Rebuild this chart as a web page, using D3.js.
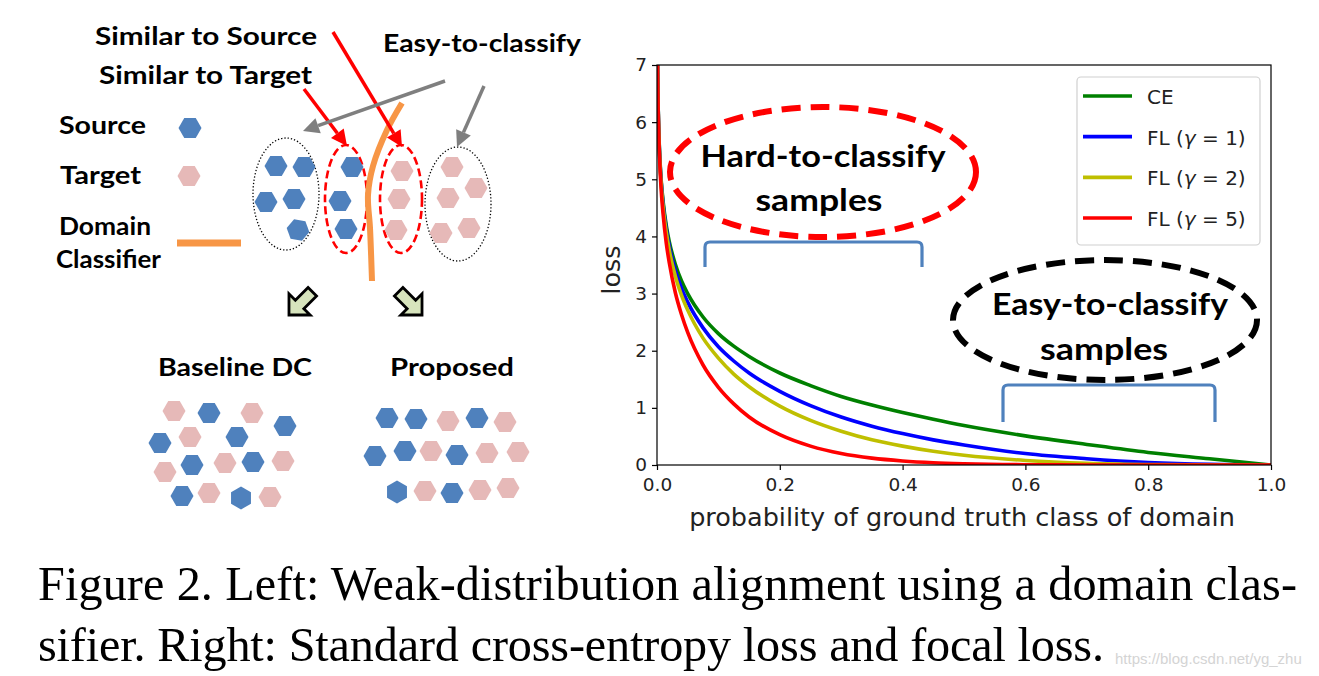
<!DOCTYPE html>
<html>
<head>
<meta charset="utf-8">
<script src="https://cdn.jsdelivr.net/npm/d3@7"></script>
<style>
body{margin:0;background:#fff;}
svg{display:block;}
</style>
</head>
<body>
<script>
// values
let probs = [0.0005,0.001,0.002,0.003,0.005,0.007,0.01,0.015,0.02,0.03,0.04,0.05,0.075,0.1,0.125,0.15,0.2,0.25,0.3,0.35,0.4,0.45,0.5,0.6,0.7,0.8,0.9,1.0];
let ceLoss  = [7.60,6.91,6.21,5.81,5.30,4.96,4.61,4.20,3.91,3.51,3.22,3.00,2.59,2.30,2.08,1.90,1.61,1.39,1.20,1.05,0.92,0.80,0.69,0.51,0.36,0.22,0.11,0.00];
let fl1Loss = [7.60,6.90,6.20,5.79,5.27,4.93,4.56,4.14,3.83,3.40,3.09,2.85,2.40,2.07,1.82,1.61,1.29,1.04,0.84,0.68,0.55,0.44,0.35,0.20,0.11,0.045,0.011,0.00];
let fl2Loss = [7.59,6.90,6.19,5.78,5.25,4.89,4.51,4.08,3.76,3.30,2.97,2.71,2.22,1.87,1.59,1.37,1.03,0.78,0.59,0.44,0.33,0.24,0.17,0.08,0.03,0.009,0.001,0.00];
let fl5Loss = [7.58,6.87,6.15,5.72,5.17,4.79,4.38,3.89,3.54,3.01,2.63,2.32,1.75,1.36,1.07,0.84,0.53,0.33,0.20,0.12,0.071,0.040,0.022,0.005,0.001,0.0,0.0,0.0];
let seriesNames = ['CE','FL1','FL2','FL5'];
let gammas = [null,1,2,5];
let xTicks = [0,0.2,0.4,0.6,0.8,1.0];
let yTicks = [0,1,2,3,4,5,6,7];

let width = 1319, height = 676;
let svg = d3.select('body').append('svg').attr('width',width).attr('height',height);

// ---------------- chart ----------------
let x = d3.scaleLinear().domain([0,1]).range([657,1271]);
let y = d3.scaleLinear().domain([0,7]).range([465,65]);
let colors = d3.scaleOrdinal().domain(seriesNames).range(['#008000','#0000ff','#bfbf00','#ff0000']);

svg.append('clipPath').attr('id','plotclip').append('rect')
  .attr('x',x(0)).attr('y',y(7)).attr('width',x(1)-x(0)).attr('height',y(0)-y(7));

let allSeries = [ceLoss,fl1Loss,fl2Loss,fl5Loss];
let line = d3.line().x(d=>x(d[0])).y(d=>y(d[1])).curve(d3.curveMonotoneX);
let curves = svg.append('g').attr('clip-path','url(#plotclip)');
curves.selectAll('path').data(allSeries).join('path')
  .attr('d',s=>line(probs.map((p,i)=>[p,s[i]])))
  .attr('fill','none').attr('stroke',(s,i)=>colors(seriesNames[i])).attr('stroke-width',3.6);

let tickFont = 'DejaVu Sans';
let gx = svg.append('g').attr('transform',`translate(0,${y(0)})`)
  .call(d3.axisBottom(x).tickValues(xTicks).tickFormat(d3.format('.1f')).tickSize(5).tickPadding(8));
let gy = svg.append('g').attr('transform',`translate(${x(0)},0)`)
  .call(d3.axisLeft(y).tickValues(yTicks).tickFormat(d3.format('d')).tickSize(5).tickPadding(5));
[gx,gy].forEach(g=>{
  g.select('.domain').remove();
  g.selectAll('line').attr('stroke','#000').attr('stroke-width',1.2);
  g.selectAll('text').attr('font-family',tickFont).attr('font-size',18.5).attr('fill','#222');
});
svg.append('rect').attr('x',x(0)).attr('y',y(7)).attr('width',x(1)-x(0)).attr('height',y(0)-y(7))
  .attr('fill','none').attr('stroke','#000').attr('stroke-width',1.2);

svg.append('text').attr('x',962).attr('y',526).attr('text-anchor','middle')
  .attr('font-family',tickFont).attr('font-size',25.5).attr('fill','#222')
  .text('probability of ground truth class of domain');
svg.append('text').attr('transform',`translate(620,${(y(0)+y(7))/2+5}) rotate(-90)`).attr('text-anchor','middle')
  .attr('font-family',tickFont).attr('font-size',25.5).attr('fill','#222').text('loss');

// legend
let leg = svg.append('g');
leg.append('rect').attr('x',1077).attr('y',77).attr('width',183).attr('height',168).attr('rx',4)
  .attr('fill','#fff').attr('fill-opacity',0.8).attr('stroke','#d0d0d0').attr('stroke-width',1.2);
let legRows = d3.scalePoint().domain(seriesNames).range([96,218]);
seriesNames.forEach((n,i)=>{
  let ly = legRows(n);
  leg.append('line').attr('x1',1083).attr('x2',1132).attr('y1',ly).attr('y2',ly)
    .attr('stroke',colors(n)).attr('stroke-width',3.6);
  let t = leg.append('text').attr('x',1147).attr('y',ly+8).attr('font-family',tickFont)
    .attr('font-size',20).attr('fill','#222');
  if(gammas[i]===null){ t.text('CE'); }
  else {
    t.append('tspan').text('FL (');
    t.append('tspan').attr('font-style','italic').text('γ');
    t.append('tspan').text(' = '+gammas[i]+')');
  }
});

// annotations on the chart
let calibri = 'Lato';
function dashedEllipse(cx,cy,rx,ry,color){
  svg.append('ellipse').attr('cx',cx).attr('cy',cy).attr('rx',rx).attr('ry',ry)
    .attr('fill','none').attr('stroke',color).attr('stroke-width',6).attr('stroke-dasharray','19 10');
}
function label(txt,xx,yy,size,len,anchor){
  let t = svg.append('text').attr('x',xx).attr('y',yy).attr('font-family',calibri).attr('font-weight',700)
    .attr('font-size',size).attr('fill','#000').attr('text-anchor',anchor||'start').text(txt);
  if(len) t.attr('textLength',len).attr('lengthAdjust','spacingAndGlyphs');
  return t;
}
function bracket(x1,x2,top,bot){
  svg.append('path').attr('d',`M${x1},${bot} L${x1},${top+5} Q${x1},${top} ${x1+5},${top} L${x2-5},${top} Q${x2},${top} ${x2},${top+5} L${x2},${bot}`)
    .attr('fill','none').attr('stroke','#4f81bd').attr('stroke-width',3.2);
}
dashedEllipse(823,172,153,65,'#ff0000');
label('Hard-to-classify',823,167,30,245,'middle');
label('samples',819,211,30,127,'middle');
bracket(705,922,242,267);

dashedEllipse(1105,320,152,60,'#000');
label('Easy-to-classify',1110,315,30,236,'middle');
label('samples',1104,360,30,128,'middle');
bracket(1003,1215,385,422);

// ---------------- left diagram ----------------
let blue = '#4f81bd', pink = '#e6b9b8';
function hex(cx,cy,fill,rot){
  let r = 11.5;
  let pts = d3.range(6).map(k=>{let a=(k*60+(rot||0))*Math.PI/180;return [cx+r*Math.cos(a),cy+r*Math.sin(a)];});
  svg.append('polygon').attr('points',pts.map(p=>p.join(',')).join(' ')).attr('fill',fill);
}
function arrow(x1,y1,x2,y2,color){
  let ang = Math.atan2(y2-y1,x2-x1), hl = 16, hw = 8;
  let bx = x2-hl*Math.cos(ang), by = y2-hl*Math.sin(ang);
  svg.append('line').attr('x1',x1).attr('y1',y1).attr('x2',bx).attr('y2',by).attr('stroke',color).attr('stroke-width',3.5);
  let px = -Math.sin(ang)*hw, py = Math.cos(ang)*hw;
  svg.append('polygon').attr('points',`${x2},${y2} ${bx+px},${by+py} ${bx-px},${by-py}`).attr('fill',color);
}
function blockArrow(cx,cy,rot){
  let shape = [[-16,-6],[2,-6],[2,-15],[17,0],[2,15],[2,6],[-16,6]];
  svg.append('polygon').attr('points',shape.map(p=>p.join(',')).join(' '))
    .attr('transform',`translate(${cx},${cy}) rotate(${rot})`)
    .attr('fill','#d7e4bd').attr('stroke','#000').attr('stroke-width',2.8).attr('stroke-linejoin','miter');
}

label('Similar to Source',95,45,25,222);
label('Similar to Target',99,84,25,213);
label('Easy-to-classify',383,52,25,198);
label('Source',59,134,25,87);
label('Target',60,184,25,81);
label('Domain',59,235,25,92);
label('Classifier',56,268,25,105);
label('Baseline DC',158,376,25,154);
label('Proposed',390,376,25,124);

hex(190,128,blue);
hex(189,176,pink);
svg.append('line').attr('x1',177).attr('x2',241).attr('y1',243).attr('y2',243).attr('stroke','#f79646').attr('stroke-width',7);

// groups
svg.append('ellipse').attr('cx',286).attr('cy',194).attr('rx',33).attr('ry',56)
  .attr('fill','none').attr('stroke','#000').attr('stroke-width',1.3).attr('stroke-dasharray','1.3 2');
svg.append('ellipse').attr('cx',458).attr('cy',204).attr('rx',33).attr('ry',57)
  .attr('fill','none').attr('stroke','#000').attr('stroke-width',1.3).attr('stroke-dasharray','1.3 2');
[[346,199],[401,199]].forEach(c=>{
  svg.append('ellipse').attr('cx',c[0]).attr('cy',c[1]).attr('rx',21).attr('ry',54)
    .attr('fill','none').attr('stroke','#ff0000').attr('stroke-width',2.6).attr('stroke-dasharray','8 4');
});
let topHexes = [
  [276,166,blue],[304,167,blue],[266,202,blue],[294,199,blue],[298,230,blue,10],
  [352,167,blue],[340,201,blue],[346,229,blue],
  [402,171,pink],[399,199,pink],[396,230,pink],
  [452,167,pink],[476,188,pink],[448,198,pink],[441,233,pink],[469,228,pink]
];
topHexes.forEach(h=>hex(h[0],h[1],h[2],h[3]));

svg.append('path').attr('d',d3.line().curve(d3.curveCatmullRom)([[402,103],[387,130],[373,166],[368,195],[370,228],[372,281]]))
  .attr('fill','none').attr('stroke','#f79646').attr('stroke-width',6);

arrow(333,32,402,147,'#ff0000');
arrow(304,89,347,146,'#ff0000');
arrow(445,81,303,131,'#7f7f7f');
arrow(484,86,457,147,'#7f7f7f');

blockArrow(301,303,135);
blockArrow(410,303,45);

let baseHexes = [
  [174,411,pink],[209,413,blue],[252,413,pink],[285,426,blue],
  [160,443,blue],[190,437,pink],[237,437,blue],
  [165,472,pink],[192,465,blue],[225,463,pink],[253,462,blue],[283,461,pink],
  [182,496,blue],[209,493,pink],[241,498,blue,30],[270,497,pink]
];
baseHexes.forEach(h=>hex(h[0],h[1],h[2],h[3]));
let propHexes = [
  [387,418,blue],[416,419,blue],[448,421,pink],[477,418,blue],[505,422,pink],
  [375,456,blue],[405,451,blue],[431,451,pink],[457,455,blue],[487,453,pink],[518,452,pink],
  [397,492,blue,30],[425,491,pink],[452,493,blue],[480,490,pink],[508,488,pink]
];
propHexes.forEach(h=>hex(h[0],h[1],h[2],h[3]));

// ---------------- caption ----------------
svg.append('text').attr('x',38).attr('y',600).attr('font-family','Liberation Serif').attr('font-size',48.2)
  .attr('textLength',1259).attr('lengthAdjust','spacing')
  .text('Figure 2. Left: Weak-distribution alignment using a domain clas-');
svg.append('text').attr('x',38).attr('y',661).attr('font-family','Liberation Serif').attr('font-size',48.2)
  .attr('textLength',1066).attr('lengthAdjust','spacing')
  .text('sifier. Right: Standard cross-entropy loss and focal loss.');
svg.append('text').attr('x',1115).attr('y',664).attr('font-family','Liberation Sans').attr('font-size',15)
  .attr('fill','#d4d4d4').text('https://blog.csdn.net/yg_zhu');
</script>
</body>
</html>
